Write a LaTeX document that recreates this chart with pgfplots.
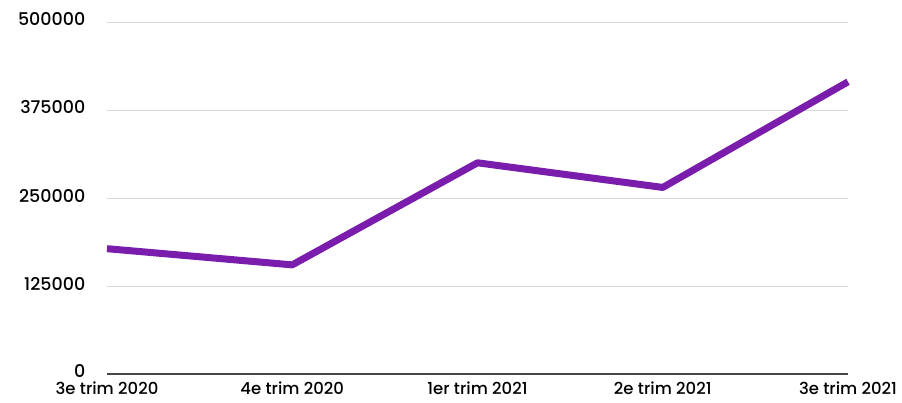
\documentclass[border=0pt]{standalone}
\usepackage{fontspec}
\setmainfont{Poppins Medium}
\usepackage{pgfplots}
\pgfplotsset{compat=1.18}
\definecolor{linepurple}{RGB}{122,28,172}
\definecolor{gridgray}{RGB}{215,215,215}
\definecolor{axisgray}{RGB}{70,70,70}
\begin{document}
\begin{tikzpicture}
\useasboundingbox (-107pt,-29pt) rectangle (795pt,374pt);
\begin{axis}[
  scale only axis,
  width=741pt, height=352pt,
  xmin=0, xmax=4, ymin=0, ymax=500000,
  scaled y ticks=false,
  axis x line*=bottom,
  axis y line*=left,
  y axis line style={draw=none},
  x axis line style={axisgray, line width=1.6pt, -},
  xtick={0,1,2,3,4},
  xticklabels={3e trim 2020,4e trim 2020,1er trim 2021,2e trim 2021,3e trim 2021},
  ytick={0,125000,250000,375000,500000},
  yticklabels={0,125000,250000,375000,500000},
  ymajorgrids,
  grid style={gridgray, line width=0.9pt},
  major tick length=0pt,
  tick label style={font=\fontsize{16.5}{18}\selectfont, text=black, inner sep=0.5pt},
  xticklabel style={yshift=-7.5pt},
  yticklabel style={font=\fontsize{17.5}{18}\selectfont, xshift=-21pt, yshift=2.5pt},
  clip=false,
]
\addplot[linepurple, line width=7pt, line join=round] coordinates {
  (0,178000) (1,155000) (2,300000) (3,265000) (4,415000)
};
\end{axis}
\end{tikzpicture}
\end{document}
